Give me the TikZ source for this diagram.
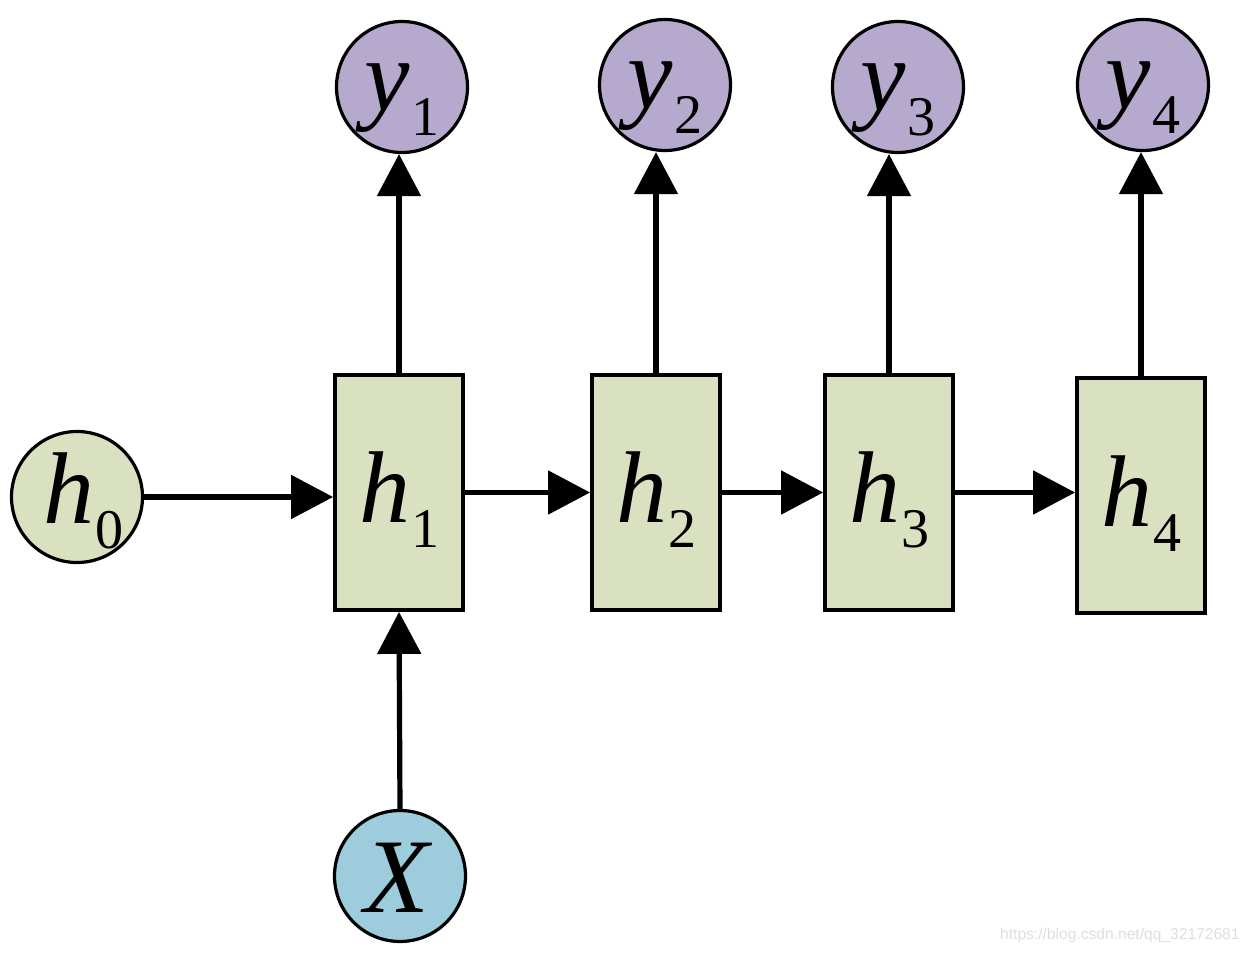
\documentclass[tikz,border=0pt]{standalone}
\usepackage{fontspec}
\setmainfont{Liberation Serif}
\newfontfamily\wmfont{Liberation Sans}
\usetikzlibrary{arrows.meta,calc}
\definecolor{hgreen}{HTML}{D9E1C1}
\definecolor{ypurple}{HTML}{B5A9CD}
\definecolor{xblue}{HTML}{9DCDDC}
\newcommand{\rnnlbl}[2]{{\fontsize{51}{51}\selectfont\itshape #1}\kern0.5pt\raisebox{-12.5pt}{\fontsize{28}{28}\selectfont #2}}
\begin{document}
\begin{tikzpicture}[x=0.5pt,y=-0.5pt,
  hbox/.style={draw=black,line width=1.9pt,fill=hgreen,minimum width=64pt,minimum height=117.5pt,inner sep=0pt},
  circ/.style={circle,draw=black,line width=1.6pt,minimum size=65.5pt,inner sep=0pt},
  lbl/.style={inner sep=0pt,anchor=base},
  arr/.style={line width=2.6pt,-{Triangle[length=21pt,width=21.5pt]}}]
\useasboundingbox (0,0) rectangle (1250,954);
\node[circ,fill=hgreen] (h0) at (77,497) {};
\node[hbox] (h1) at (399,492.5) {};
\node[hbox] (h2) at (656,492.5) {};
\node[hbox] (h3) at (889,492.5) {};
\node[hbox] (h4) at (1141,495.5) {};
\node[circ,fill=ypurple] (y1) at (402,87) {};
\node[circ,fill=ypurple] (y2) at (665,85) {};
\node[circ,fill=ypurple] (y3) at (898,87) {};
\node[circ,fill=ypurple] (y4) at (1143,85) {};
\node[circ,fill=xblue] (x) at (400,876) {};
% labels
\node[lbl] (lh0) at ($(h0.center)+(6,26)$) {\rnnlbl{h}{0}};
\node[lbl] (lh1) at ($(h1.center)+(0,30)$) {\rnnlbl{h}{1}};
\node[lbl] (lh2) at ($(h2.center)+(0,30)$) {\rnnlbl{h}{2}};
\node[lbl] (lh3) at ($(h3.center)+(0,30)$) {\rnnlbl{h}{3}};
\node[lbl] (lh4) at ($(h4.center)+(0,31)$) {\rnnlbl{h}{4}};
\node[lbl] (ly1) at ($(y1.center)+(0,23)$) {\rnnlbl{y}{1}};
\node[lbl] (ly2) at ($(y2.center)+(0,23)$) {\rnnlbl{y}{2}};
\node[lbl] (ly3) at ($(y3.center)+(0,23)$) {\rnnlbl{y}{3}};
\node[lbl] (ly4) at ($(y4.center)+(0,23)$) {\rnnlbl{y}{4}};
\node[lbl] (lx) at ($(x.center)+(-3,36)$) {\fontsize{53}{53}\selectfont\itshape X};
% connectors
\draw[arr] (h0.east) -- (h0.east -| h1.west);
\draw[arr] (h1.east) -- (h2.west);
\draw[arr] (h2.east) -- (h3.west);
\draw[arr] (h3.east) -- (h3.east -| h4.west);
\draw[arr] (h1.north) -- (h1.north |- y1.south);
\draw[arr] (h2.north) -- (h2.north |- y2.south);
\draw[arr] (h3.north) -- (h3.north |- y3.south);
\draw[arr] (h4.north) -- (h4.north |- y4.south);
\draw[arr] (x.north) -- (h1.south);
% watermark
\node[inner sep=0pt,anchor=east,text=black!13] (wm) at (1240,935) {\wmfont\fontsize{7.8}{9}\selectfont https://blog.csdn.net/qq\_32172681};
\end{tikzpicture}
\end{document}
